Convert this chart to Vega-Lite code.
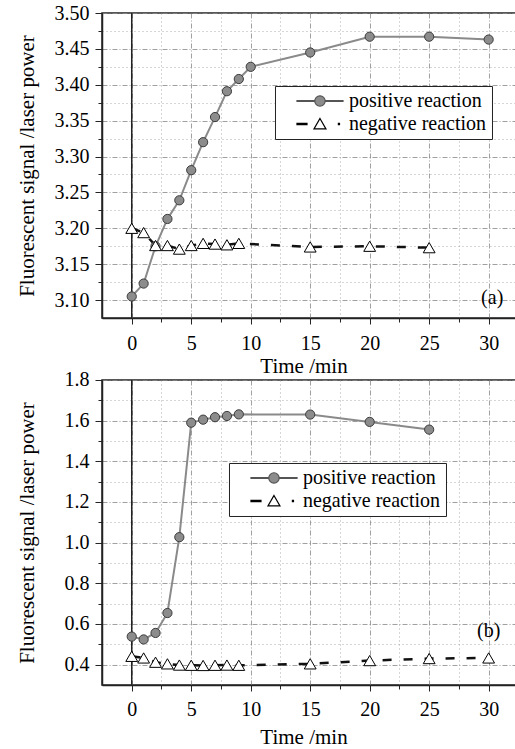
{
  "$schema": "https://vega.github.io/schema/vega-lite/v6.json",
  "padding": {"left": 16, "top": 2, "right": 0, "bottom": 0},
  "background": "white",
  "config": {
    "font": "Liberation Serif",
    "view": {"stroke": "#222", "strokeWidth": 1.5},
    "axis": {
      "labelFont": "Liberation Serif",
      "titleFont": "Liberation Serif",
      "labelFontSize": 20,
      "titleFontSize": 21,
      "titleFontWeight": "normal",
      "labelFontWeight": "normal",
      "labelColor": "black",
      "titleColor": "black",
      "domainColor": "#222",
      "domainWidth": 1.5,
      "tickColor": "#222",
      "tickWidth": 1
    },
    "legend": {
      "labelFont": "Liberation Serif",
      "labelFontSize": 20,
      "labelColor": "black",
      "labelLimit": 300
    }
  },
  "datasets": {
    "a": [
      {"t": 0, "v": 3.105, "series": "positive reaction"},
      {"t": 1, "v": 3.123, "series": "positive reaction"},
      {"t": 2, "v": 3.175, "series": "positive reaction"},
      {"t": 3, "v": 3.213, "series": "positive reaction"},
      {"t": 4, "v": 3.239, "series": "positive reaction"},
      {"t": 5, "v": 3.281, "series": "positive reaction"},
      {"t": 6, "v": 3.320, "series": "positive reaction"},
      {"t": 7, "v": 3.355, "series": "positive reaction"},
      {"t": 8, "v": 3.391, "series": "positive reaction"},
      {"t": 9, "v": 3.408, "series": "positive reaction"},
      {"t": 10, "v": 3.425, "series": "positive reaction"},
      {"t": 15, "v": 3.445, "series": "positive reaction"},
      {"t": 20, "v": 3.467, "series": "positive reaction"},
      {"t": 25, "v": 3.467, "series": "positive reaction"},
      {"t": 30, "v": 3.463, "series": "positive reaction"},
      {"t": 0, "v": 3.200, "series": "negative reaction"},
      {"t": 1, "v": 3.194, "series": "negative reaction"},
      {"t": 2, "v": 3.176, "series": "negative reaction"},
      {"t": 3, "v": 3.176, "series": "negative reaction"},
      {"t": 4, "v": 3.171, "series": "negative reaction"},
      {"t": 5, "v": 3.176, "series": "negative reaction"},
      {"t": 6, "v": 3.179, "series": "negative reaction"},
      {"t": 7, "v": 3.178, "series": "negative reaction"},
      {"t": 8, "v": 3.177, "series": "negative reaction"},
      {"t": 9, "v": 3.179, "series": "negative reaction"},
      {"t": 15, "v": 3.174, "series": "negative reaction"},
      {"t": 20, "v": 3.175, "series": "negative reaction"},
      {"t": 25, "v": 3.173, "series": "negative reaction"}
    ],
    "b": [
      {"t": 0, "v": 0.538, "series": "positive reaction"},
      {"t": 1, "v": 0.524, "series": "positive reaction"},
      {"t": 2, "v": 0.556, "series": "positive reaction"},
      {"t": 3, "v": 0.654, "series": "positive reaction"},
      {"t": 4, "v": 1.027, "series": "positive reaction"},
      {"t": 5, "v": 1.590, "series": "positive reaction"},
      {"t": 6, "v": 1.605, "series": "positive reaction"},
      {"t": 7, "v": 1.617, "series": "positive reaction"},
      {"t": 8, "v": 1.623, "series": "positive reaction"},
      {"t": 9, "v": 1.631, "series": "positive reaction"},
      {"t": 15, "v": 1.630, "series": "positive reaction"},
      {"t": 20, "v": 1.594, "series": "positive reaction"},
      {"t": 25, "v": 1.556, "series": "positive reaction"},
      {"t": 0, "v": 0.441, "series": "negative reaction"},
      {"t": 1, "v": 0.433, "series": "negative reaction"},
      {"t": 2, "v": 0.412, "series": "negative reaction"},
      {"t": 3, "v": 0.404, "series": "negative reaction"},
      {"t": 4, "v": 0.398, "series": "negative reaction"},
      {"t": 5, "v": 0.397, "series": "negative reaction"},
      {"t": 6, "v": 0.396, "series": "negative reaction"},
      {"t": 7, "v": 0.397, "series": "negative reaction"},
      {"t": 8, "v": 0.398, "series": "negative reaction"},
      {"t": 9, "v": 0.397, "series": "negative reaction"},
      {"t": 15, "v": 0.404, "series": "negative reaction"},
      {"t": 20, "v": 0.420, "series": "negative reaction"},
      {"t": 25, "v": 0.430, "series": "negative reaction"},
      {"t": 30, "v": 0.433, "series": "negative reaction"}
    ]
  },
  "spacing": 62,
  "bounds": "flush",
  "resolve": {"scale": {"shape": "independent", "fill": "independent", "stroke": "independent", "size": "independent"}, "legend": {"shape": "independent", "fill": "independent", "stroke": "independent"}},
  "vconcat": [
    {
      "width": 416.4,
      "height": 305,
      "data": {"name": "a"},
      "resolve": {"axis": {"x": "independent", "y": "independent"}, "scale": {"shape": "independent", "fill": "independent", "stroke": "independent"}},
      "layer": [
        {
          "transform": [{"filter": "datum.series === 'negative reaction'"}],
          "mark": {"type": "line", "color": "#111", "strokeWidth": 2.5, "strokeDash": [9, 12]},
          "encoding": {
            "x": {"field": "t", "type": "quantitative", "scale": {"domain": [-2.5, 32.5], "nice": false, "zero": false},
              "axis": {"orient": "bottom", "values": [2.5, 7.5, 12.5, 17.5, 22.5, 27.5], "labels": false, "title": null, "domain": false, "tickSize": 4, "grid": true, "gridDash": [1, 3], "gridColor": "#999", "gridWidth": 0.8}},
            "y": {"field": "v", "type": "quantitative", "scale": {"domain": [3.075, 3.5], "nice": false, "zero": false},
              "axis": {"orient": "left", "values": [3.125, 3.175, 3.225, 3.275, 3.325, 3.375, 3.425, 3.475], "labels": false, "title": null, "domain": false, "tickSize": 4, "grid": true, "gridDash": [1, 3], "gridColor": "#999", "gridWidth": 0.8}}
          }
        },
        {
          "transform": [{"filter": "datum.series === 'positive reaction'"}],
          "mark": {"type": "line", "color": "#8a8a8a", "strokeWidth": 2},
          "encoding": {
            "x": {"field": "t", "type": "quantitative",
              "axis": {"orient": "bottom", "values": [0, 5, 10, 15, 20, 25, 30], "title": "Time /min", "titleX": 201.5, "titlePadding": 2, "titleFontWeight": "normal", "titleFont": "Liberation Serif", "labelFont": "Liberation Serif", "tickSize": 6, "labelPadding": 9, "grid": true, "gridDash": [5, 2, 1, 2], "gridColor": "#888", "gridWidth": 0.8}},
            "y": {"field": "v", "type": "quantitative",
              "axis": {"orient": "left", "values": [3.1, 3.15, 3.2, 3.25, 3.3, 3.35, 3.4, 3.45, 3.5], "format": ".2f", "title": "Fluorescent signal /laser power", "titleX": -68, "titleBaseline": "alphabetic", "titleFontWeight": "normal", "titleFont": "Liberation Serif", "labelFont": "Liberation Serif", "tickSize": 7, "labelPadding": 6, "grid": true, "gridDash": [5, 2, 1, 2], "gridColor": "#888", "gridWidth": 0.8}}
          }
        },
        {
          "data": {"values": [{}]},
          "mark": {"type": "rule", "color": "#222", "strokeWidth": 1.5},
          "encoding": {"x": {"datum": 0, "axis": null}}
        },
        {
          "mark": {"type": "point", "filled": true, "strokeWidth": 1, "opacity": 1},
          "encoding": {
            "x": {"field": "t", "type": "quantitative", "axis": null},
            "y": {"field": "v", "type": "quantitative", "axis": null},
            "shape": {"field": "series", "type": "nominal", "legend": null,
              "scale": {"domain": ["negative reaction", "positive reaction"], "range": ["triangle-up", "circle"]}},
            "fill": {"field": "series", "type": "nominal", "legend": null,
              "scale": {"domain": ["negative reaction", "positive reaction"], "range": ["white", "#8c8c8c"]}},
            "stroke": {"field": "series", "type": "nominal", "legend": null,
              "scale": {"domain": ["negative reaction", "positive reaction"], "range": ["#000", "#3a3a3a"]}},
            "size": {"field": "series", "type": "nominal", "legend": null,
              "scale": {"domain": ["negative reaction", "positive reaction"], "range": [140, 85]}}
          }
        },
        {
          "mark": {"type": "point", "filled": true, "strokeWidth": 1.2, "opacity": 0, "size": 121},
          "encoding": {
            "x": {"field": "t", "type": "quantitative", "axis": null},
            "y": {"field": "v", "type": "quantitative", "axis": null},
            "shape": {"field": "series", "type": "nominal",
              "scale": {"domain": ["positive reaction", "negative reaction"], "range": [
                "M1.27,-0.08H4.5V0.08H1.27Z M6.4,0A0.95,0.95,0,1,1,4.5,0A0.95,0.95,0,1,1,6.4,0Z M6.4,-0.08H9.64V0.08H6.4Z",
                "M1.27,-0.13H3.09V0.13H1.27Z M5.45,-1.0L6.54,0.9L4.36,0.9Z M8.8,-0.1H9.0V0.1H8.8Z"]},
              "legend": {
                "orient": "none", "legendX": 173, "legendY": 73, "title": null,
                "padding": 5, "strokeColor": "#222", "fillColor": "white",
                "labelOffset": 49, "symbolSize": 121, "symbolStrokeWidth": 1.2, "symbolOpacity": 1, "rowPadding": 3
              }},
            "fill": {"field": "series", "type": "nominal",
              "scale": {"domain": ["positive reaction", "negative reaction"], "range": ["#8c8c8c", "white"]}},
            "stroke": {"field": "series", "type": "nominal",
              "scale": {"domain": ["positive reaction", "negative reaction"], "range": ["#555", "#000"]}}
          }
        },
        {
          "data": {"values": [{}]},
          "mark": {"type": "text", "fontSize": 20, "font": "Liberation Serif", "fill": "black", "fontWeight": "normal"},
          "encoding": {"x": {"datum": 30.3, "axis": null}, "y": {"datum": 3.103, "axis": null}, "text": {"value": "(a)"}}
        }
      ]
    },
    {
      "width": 416.4,
      "height": 305,
      "data": {"name": "b"},
      "resolve": {"axis": {"x": "independent", "y": "independent"}, "scale": {"shape": "independent", "fill": "independent", "stroke": "independent"}},
      "layer": [
        {
          "transform": [{"filter": "datum.series === 'negative reaction'"}],
          "mark": {"type": "line", "color": "#111", "strokeWidth": 2.5, "strokeDash": [9, 12]},
          "encoding": {
            "x": {"field": "t", "type": "quantitative", "scale": {"domain": [-2.5, 32.5], "nice": false, "zero": false},
              "axis": {"orient": "bottom", "values": [2.5, 7.5, 12.5, 17.5, 22.5, 27.5], "labels": false, "title": null, "domain": false, "tickSize": 4, "grid": true, "gridDash": [1, 3], "gridColor": "#999", "gridWidth": 0.8}},
            "y": {"field": "v", "type": "quantitative", "scale": {"domain": [0.3, 1.8], "nice": false, "zero": false},
              "axis": {"orient": "left", "values": [0.5, 0.7, 0.9, 1.1, 1.3, 1.5, 1.7], "labels": false, "title": null, "domain": false, "tickSize": 4, "grid": true, "gridDash": [1, 3], "gridColor": "#999", "gridWidth": 0.8}}
          }
        },
        {
          "transform": [{"filter": "datum.series === 'positive reaction'"}],
          "mark": {"type": "line", "color": "#8a8a8a", "strokeWidth": 2},
          "encoding": {
            "x": {"field": "t", "type": "quantitative",
              "axis": {"orient": "bottom", "values": [0, 5, 10, 15, 20, 25, 30], "title": "Time /min", "titleX": 201.5, "titlePadding": 7, "titleFontWeight": "normal", "titleFont": "Liberation Serif", "labelFont": "Liberation Serif", "tickSize": 6, "labelPadding": 9, "grid": true, "gridDash": [5, 2, 1, 2], "gridColor": "#888", "gridWidth": 0.8}},
            "y": {"field": "v", "type": "quantitative",
              "axis": {"orient": "left", "values": [0.4, 0.6, 0.8, 1.0, 1.2, 1.4, 1.6, 1.8], "format": ".1f", "title": "Fluorescent signal /laser power", "titleX": -68, "titleBaseline": "alphabetic", "titleFontWeight": "normal", "titleFont": "Liberation Serif", "labelFont": "Liberation Serif", "tickSize": 7, "labelPadding": 6, "grid": true, "gridDash": [5, 2, 1, 2], "gridColor": "#888", "gridWidth": 0.8}}
          }
        },
        {
          "data": {"values": [{}]},
          "mark": {"type": "rule", "color": "#222", "strokeWidth": 1.5},
          "encoding": {"x": {"datum": 0, "axis": null}}
        },
        {
          "mark": {"type": "point", "filled": true, "strokeWidth": 1, "opacity": 1},
          "encoding": {
            "x": {"field": "t", "type": "quantitative", "axis": null},
            "y": {"field": "v", "type": "quantitative", "axis": null},
            "shape": {"field": "series", "type": "nominal", "legend": null,
              "scale": {"domain": ["negative reaction", "positive reaction"], "range": ["triangle-up", "circle"]}},
            "fill": {"field": "series", "type": "nominal", "legend": null,
              "scale": {"domain": ["negative reaction", "positive reaction"], "range": ["white", "#8c8c8c"]}},
            "stroke": {"field": "series", "type": "nominal", "legend": null,
              "scale": {"domain": ["negative reaction", "positive reaction"], "range": ["#000", "#3a3a3a"]}},
            "size": {"field": "series", "type": "nominal", "legend": null,
              "scale": {"domain": ["negative reaction", "positive reaction"], "range": [140, 85]}}
          }
        },
        {
          "mark": {"type": "point", "filled": true, "strokeWidth": 1.2, "opacity": 0, "size": 121},
          "encoding": {
            "x": {"field": "t", "type": "quantitative", "axis": null},
            "y": {"field": "v", "type": "quantitative", "axis": null},
            "shape": {"field": "series", "type": "nominal",
              "scale": {"domain": ["positive reaction", "negative reaction"], "range": [
                "M1.27,-0.08H4.5V0.08H1.27Z M6.4,0A0.95,0.95,0,1,1,4.5,0A0.95,0.95,0,1,1,6.4,0Z M6.4,-0.08H9.64V0.08H6.4Z",
                "M1.27,-0.13H3.09V0.13H1.27Z M5.45,-1.0L6.54,0.9L4.36,0.9Z M8.8,-0.1H9.0V0.1H8.8Z"]},
              "legend": {
                "orient": "none", "legendX": 127, "legendY": 83, "title": null,
                "padding": 5, "strokeColor": "#222", "fillColor": "white",
                "labelOffset": 49, "symbolSize": 121, "symbolStrokeWidth": 1.2, "symbolOpacity": 1, "rowPadding": 3
              }},
            "fill": {"field": "series", "type": "nominal",
              "scale": {"domain": ["positive reaction", "negative reaction"], "range": ["#8c8c8c", "white"]}},
            "stroke": {"field": "series", "type": "nominal",
              "scale": {"domain": ["positive reaction", "negative reaction"], "range": ["#555", "#000"]}}
          }
        },
        {
          "data": {"values": [{}]},
          "mark": {"type": "text", "fontSize": 20, "font": "Liberation Serif", "fill": "black", "fontWeight": "normal"},
          "encoding": {"x": {"datum": 30.0, "axis": null}, "y": {"datum": 0.567, "axis": null}, "text": {"value": "(b)"}}
        }
      ]
    }
  ]
}
